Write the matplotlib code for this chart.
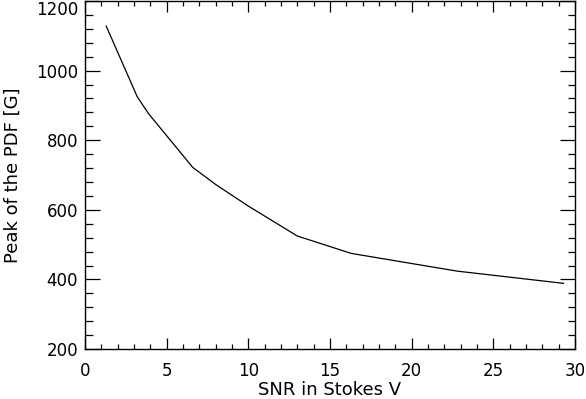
import matplotlib
matplotlib.use("Agg")
import matplotlib.pyplot as plt
from matplotlib.ticker import MultipleLocator

# SNR in Stokes V vs peak of the PDF
snr = [1.3, 3.2, 3.9, 6.6, 8.0, 10.0, 13.0, 16.3, 22.8, 29.3]
peak = [1128, 925, 876, 722, 673, 611, 525, 475, 424, 389]

plt.rcParams['font.family'] = ['DejaVu Sans']

fig = plt.figure(figsize=(5.86, 3.99), dpi=100)
ax = fig.add_axes([0.145, 0.125, 0.836, 0.8725])

ax.plot(snr, peak, color='black', lw=0.9)

ax.set_xlim(0, 30)
ax.set_ylim(200, 1200)
ax.xaxis.set_major_locator(MultipleLocator(5))
ax.xaxis.set_minor_locator(MultipleLocator(1))
ax.yaxis.set_major_locator(MultipleLocator(200))
ax.yaxis.set_minor_locator(MultipleLocator(40))

ax.tick_params(which='both', direction='in', top=True, right=True,
               width=0.9, labelsize=12, colors='black')
ax.tick_params(axis='x', which='major', length=7.6, pad=9)
ax.tick_params(axis='x', which='minor', length=3.8)
ax.tick_params(axis='y', which='major', length=10.8, pad=5)
ax.tick_params(axis='y', which='minor', length=5.4)
for s in ax.spines.values():
    s.set_linewidth(1.0)

ax.set_xlabel('SNR in Stokes V', fontsize=13, labelpad=1)
ax.set_ylabel('Peak of the PDF [G]', fontsize=13, labelpad=10)

# keep the top tick label inside the figure
fig.canvas.draw()
for tick in ax.yaxis.get_major_ticks():
    if abs(tick.get_loc() - 1200) < 1:
        tick.label1.set_verticalalignment('top')

fig.savefig('out.png', dpi=100)
